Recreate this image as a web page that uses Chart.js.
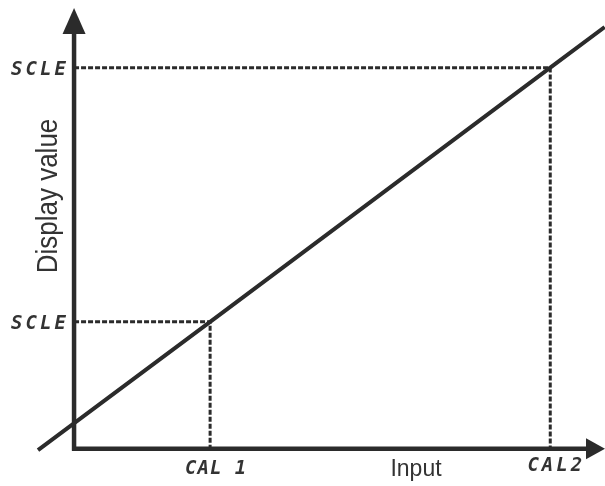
<!DOCTYPE html>
<html>
<head>
<meta charset="utf-8">
<script src="https://cdn.jsdelivr.net/npm/chart.js@4/dist/chart.umd.min.js"></script>
<style>
  html, body { margin: 0; padding: 0; background: #fff; }
  canvas { display: block; }
</style>
</head>
<body>
<canvas id="calChart" width="605" height="486"></canvas>
<script>
// calibration line (input units vs display units)
const inputValues = [-0.53, 2, 7, 7.8];
const displayValues = [-0.02, 2, 6, 6.64];

// calibration points and their labels
const calInputs = [2, 7];
const calInputLabels = ["CAL 1", "CAL2"];
const scaleDisplays = [2, 6];
const scaleDisplayLabels = ["SCLE", "SCLE"];

const xTitle = "Input";
const yTitle = "Display value";

const ink = "#2b2b2b";
const segFont = "bold oblique 19px 'DejaVu Sans Mono', monospace";

const axesPlugin = {
  id: "calAxes",
  afterDatasetsDraw(chart) {
    const { ctx, scales } = chart;
    const x = scales.x, y = scales.y;
    const x0 = x.getPixelForValue(0);
    const y0 = y.getPixelForValue(0);
    const xEnd = x.right + 1;
    const yTop = y.top;

    ctx.save();

    // dashed guide lines
    ctx.strokeStyle = ink;
    ctx.lineWidth = 3;
    ctx.setLineDash([5, 2]);
    for (let i = 0; i < calInputs.length; i++) {
      const px = x.getPixelForValue(calInputs[i]);
      const py = y.getPixelForValue(scaleDisplays[i]);
      ctx.beginPath();
      ctx.moveTo(x0, py);
      ctx.lineTo(px, py);
      ctx.lineTo(px, y0);
      ctx.stroke();
    }
    ctx.setLineDash([]);

    // axes
    ctx.lineWidth = 4.5;
    ctx.beginPath();
    ctx.moveTo(x0, y0 + 2);
    ctx.lineTo(x0, yTop + 20);
    ctx.moveTo(x0 - 2, y0);
    ctx.lineTo(xEnd - 14, y0);
    ctx.stroke();

    // arrow heads
    ctx.fillStyle = ink;
    ctx.beginPath();
    ctx.moveTo(x0, yTop);
    ctx.lineTo(x0 + 11.5, yTop + 26);
    ctx.lineTo(x0 - 11.5, yTop + 26);
    ctx.closePath();
    ctx.fill();
    ctx.beginPath();
    ctx.moveTo(xEnd, y0);
    ctx.lineTo(xEnd - 19, y0 - 10.5);
    ctx.lineTo(xEnd - 19, y0 + 10.5);
    ctx.closePath();
    ctx.fill();

    // tick labels
    ctx.font = segFont;
    ctx.fillStyle = "#333";
    ctx.textBaseline = "middle";
    ctx.textAlign = "center";
    ctx.letterSpacing = "3px";
    for (let i = 0; i < scaleDisplays.length; i++) {
      ctx.fillText(scaleDisplayLabels[i], 40, y.getPixelForValue(scaleDisplays[i]) + 2);
    }
    ctx.letterSpacing = "1px";
    ctx.fillText(calInputLabels[0], x.getPixelForValue(calInputs[0]) + 6, y0 + 20);
    ctx.letterSpacing = "3px";
    ctx.fillText(calInputLabels[1], x.getPixelForValue(calInputs[1]) + 6, y0 + 17);
    ctx.letterSpacing = "0px";

    // axis titles
    ctx.fillStyle = "#333";
    ctx.font = "23px 'Liberation Sans', Arial, sans-serif";
    ctx.save();
    ctx.translate(416, y0 + 20);
    ctx.scale(1, 1.08);
    ctx.fillText(xTitle, 0, 0);
    ctx.restore();
    ctx.font = "26px 'Liberation Sans', Arial, sans-serif";
    ctx.save();
    ctx.translate(49, 196);
    ctx.rotate(-Math.PI / 2);
    ctx.scale(1, 1.1);
    ctx.fillText(yTitle, 0, 0);
    ctx.restore();

    ctx.restore();
  }
};

const chartData = {
  datasets: [
    {
      label: "Calibration",
      data: inputValues.map((v, i) => ({ x: v, y: displayValues[i] })),
      showLine: true,
      borderColor: ink,
      borderWidth: 4,
      pointRadius: 0,
      clip: false,
    },
  ],
};

const chartOptions = {
  responsive: false,
  animation: false,
  layout: {
    padding: { left: 38, right: 1, top: 8, bottom: 34 },
  },
  plugins: {
    legend: { display: false },
    tooltip: { enabled: false },
  },
  scales: {
    x: {
      type: "linear",
      display: false,
      min: -0.53,
      max: 7.79,
    },
    y: {
      type: "linear",
      display: false,
      min: -0.05,
      max: 6.94,
    },
  },
};

new Chart(document.getElementById("calChart"), {
  type: "scatter",
  data: chartData,
  options: chartOptions,
  plugins: [axesPlugin],
});
</script>
</body>
</html>
